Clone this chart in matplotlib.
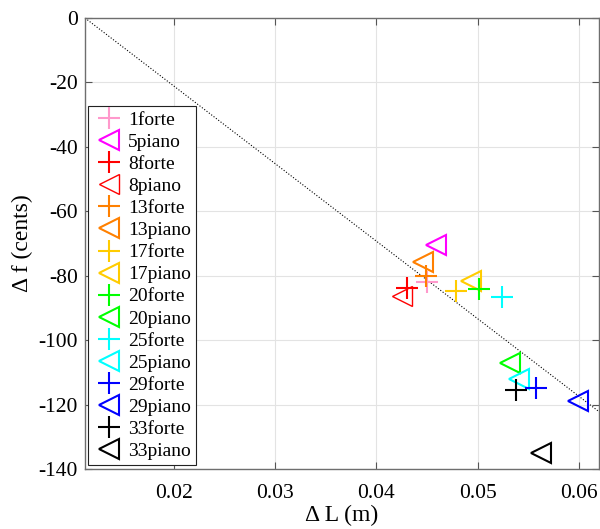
import matplotlib.pyplot as plt
import numpy as np

plt.rcParams['font.family'] = ['Liberation Serif', 'DejaVu Serif']
plt.rcParams['axes.unicode_minus'] = False

# data
labels = ['1forte', '5piano', '8forte', '8piano', '13forte', '13piano',
          '17forte', '17piano', '20forte', '20piano', '25forte', '25piano',
          '29forte', '29piano', '33forte', '33piano']
dL = [0.04496, 0.04591, 0.04304, 0.04255, 0.04486, 0.04462,
      0.04785, 0.04930, 0.05015, 0.05325, 0.05246, 0.05407,
      0.05575, 0.05990, 0.05375, 0.05622]
df = [-81.9, -70.5, -83.9, -86.3, -80.1, -75.7,
      -84.8, -81.6, -84.1, -107.0, -86.5, -112.2,
      -115.0, -118.8, -115.5, -135.0]
colors = ['#ff99cc', '#ff00ff', '#ff0000', '#ff0000', '#ff8000', '#ff8000',
          '#ffcc00', '#ffcc00', '#00ff00', '#00ff00', '#00ffff', '#00ffff',
          '#0000ff', '#0000ff', '#000000', '#000000']

# dotted reference line
line_x = [0.0112, 0.062]
line_y = [0, -122.2]

fig = plt.figure(figsize=(6.0, 5.29), dpi=100)
ax = fig.add_axes([85/600, 60/529, 514/600, 451/529])

ax.plot(line_x, line_y, ':', color='k', lw=0.8)

for lab, x, y, c in zip(labels, dL, df, colors):
    if 'forte' in lab:
        ax.plot(x, y, '+', color=c, ms=16, mew=1.5, label=lab, ls='none')
    else:
        mew = 1.0 if lab == '8piano' else 1.5
        ax.plot(x, y, '<', color=c, mfc='none', ms=15, mew=mew, label=lab, ls='none')

ax.set_xlim(0.0112, 0.062)
ax.set_ylim(-140, 0)
ax.set_xticks([0.02, 0.03, 0.04, 0.05, 0.06])
ax.set_xticklabels(['0.02', '0.03', '0.04', '0.05', '0.06'])
ax.set_yticks(np.arange(-140, 1, 20))
ax.grid(True, color='#e3e3e3', lw=0.8)
ax.set_axisbelow(True)
ax.tick_params(direction='in', top=True, right=True, labelsize=15.5, color='#555555', length=5)
ax.tick_params(axis='x', pad=11)
ax.tick_params(axis='y', pad=5)
for s in ax.spines.values():
    s.set_color('#6e6e6e')
    s.set_linewidth(1.0)

ax.set_xlabel('Δ L (m)', fontsize=17, labelpad=1.5)
ax.set_ylabel('Δ f (cents)', fontsize=17, labelpad=4)

leg = ax.legend(loc='lower left', bbox_to_anchor=(0.006, 0.009), borderaxespad=0,
                fontsize=14, numpoints=1, handletextpad=0.1, labelspacing=0.23,
                handlelength=1.7, borderpad=0.25,
                frameon=True, fancybox=False, edgecolor='#222222', framealpha=1)
leg.get_frame().set_linewidth(0.8)

fig.savefig('out.png', dpi=100)
